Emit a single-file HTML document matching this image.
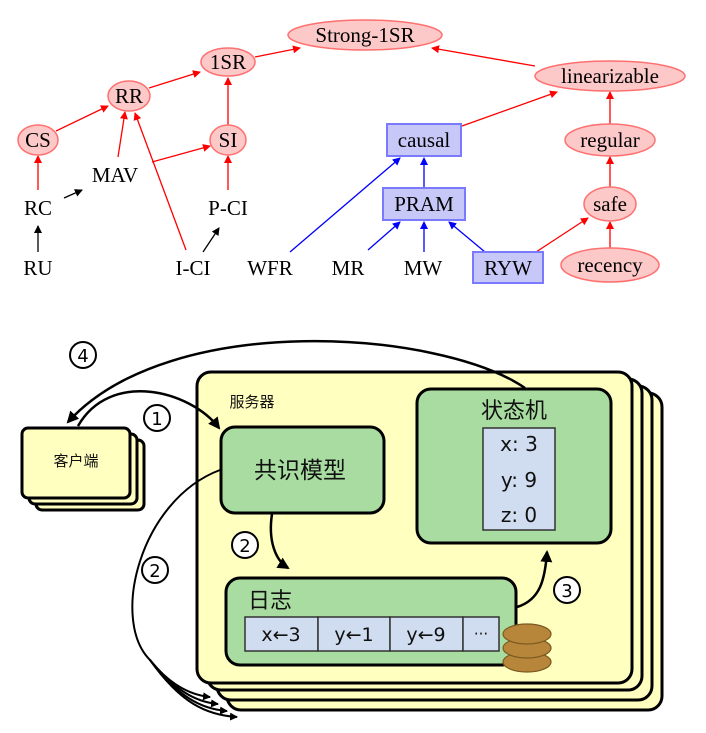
<!DOCTYPE html>
<html><head><meta charset="utf-8"><style>body{margin:0;background:#fff}svg{display:block}</style></head><body>
<svg width="706" height="733" viewBox="0 0 706 733" xmlns="http://www.w3.org/2000/svg">
<defs>
<marker id="ar" markerWidth="8" markerHeight="8" refX="7" refY="4" orient="auto" markerUnits="userSpaceOnUse"><path d="M0,0 L8,4 L0,8 Z" fill="#f00"/></marker>
<marker id="ab" markerWidth="8" markerHeight="8" refX="7" refY="4" orient="auto" markerUnits="userSpaceOnUse"><path d="M0,0 L8,4 L0,8 Z" fill="#00f"/></marker>
<marker id="ak" markerWidth="8" markerHeight="8" refX="7" refY="4" orient="auto" markerUnits="userSpaceOnUse"><path d="M0,0 L8,4 L0,8 Z" fill="#000"/></marker>
<marker id="ak2" markerWidth="12" markerHeight="12" refX="10" refY="6" orient="auto" markerUnits="userSpaceOnUse"><path d="M0,0 L12,6 L0,12 Z" fill="#000"/></marker>
</defs>
<g font-family="Liberation Serif, serif" font-size="21" text-anchor="middle">
<g stroke="#f00" stroke-width="1.3" fill="none" marker-end="url(#ar)">
<line x1="255" y1="57" x2="300" y2="48"/>
<line x1="535" y1="66" x2="432" y2="48"/>
<line x1="149" y1="88" x2="200" y2="72"/>
<line x1="56" y1="131" x2="108" y2="106"/>
<line x1="118" y1="157" x2="125" y2="112"/>
<line x1="186" y1="250" x2="135" y2="113"/>
<line x1="152" y1="162" x2="210" y2="146"/>
<line x1="228" y1="125" x2="228" y2="78"/>
<line x1="228" y1="190" x2="228" y2="156"/>
<line x1="38" y1="190" x2="38" y2="156"/>
<line x1="462" y1="126" x2="557" y2="92"/>
<line x1="610" y1="124" x2="610" y2="92"/>
<line x1="610" y1="187" x2="610" y2="157"/>
<line x1="610" y1="248" x2="610" y2="222"/>
<line x1="536" y1="252" x2="588" y2="218"/>
</g>
<g stroke="#00f" stroke-width="1.3" fill="none" marker-end="url(#ab)">
<line x1="290" y1="252" x2="400" y2="158"/>
<line x1="424" y1="188" x2="424" y2="158"/>
<line x1="368" y1="250" x2="400" y2="222"/>
<line x1="424" y1="252" x2="424" y2="222"/>
<line x1="485" y1="252" x2="449" y2="222"/>
</g>
<g stroke="#000" stroke-width="1.3" fill="none" marker-end="url(#ak)">
<line x1="38" y1="252" x2="38" y2="226"/>
<line x1="64" y1="198" x2="82" y2="190"/>
<line x1="203" y1="252" x2="219" y2="228"/>
</g>
<g fill="#fcc8c8" stroke="#ff7070" stroke-width="1.5">
<ellipse cx="365" cy="35" rx="77" ry="15"/>
<ellipse cx="228" cy="62" rx="27" ry="14"/>
<ellipse cx="129" cy="96" rx="21" ry="15"/>
<ellipse cx="38" cy="140" rx="20" ry="15"/>
<ellipse cx="228" cy="140" rx="18" ry="15"/>
<ellipse cx="610" cy="76" rx="75" ry="15"/>
<ellipse cx="610" cy="140" rx="45" ry="16"/>
<ellipse cx="610" cy="204" rx="26" ry="17"/>
<ellipse cx="610" cy="265" rx="49" ry="17"/>
</g>
<g fill="#c8c8f8" stroke="#7a7aff" stroke-width="2">
<rect x="387" y="124" width="74" height="32"/>
<rect x="383" y="188" width="82" height="32"/>
<rect x="473" y="252" width="70" height="31"/>
</g>
<text x="365" y="42">Strong-1SR</text>
<text x="228" y="69">1SR</text>
<text x="129" y="103">RR</text>
<text x="38" y="147">CS</text>
<text x="228" y="147">SI</text>
<text x="115" y="182">MAV</text>
<text x="38" y="215">RC</text>
<text x="228" y="215">P-CI</text>
<text x="38" y="275">RU</text>
<text x="193" y="275">I-CI</text>
<text x="270" y="275">WFR</text>
<text x="348" y="275">MR</text>
<text x="423" y="275">MW</text>
<text x="508" y="275">RYW</text>
<text x="424" y="147">causal</text>
<text x="424" y="211">PRAM</text>
<text x="610" y="83">linearizable</text>
<text x="610" y="147">regular</text>
<text x="610" y="211">safe</text>
<text x="610" y="272">recency</text>
</g>

<g stroke="#000" stroke-width="3" fill="#ffffc0">
<rect x="227" y="393" width="435" height="317" rx="14"/>
<rect x="217" y="386" width="435" height="314" rx="14"/>
<rect x="207" y="379" width="435" height="311" rx="14"/>
<rect x="197" y="372" width="435" height="311" rx="14"/>
<rect x="36" y="440" width="108" height="70" rx="6"/>
<rect x="29" y="434" width="108" height="70" rx="6"/>
<rect x="22" y="428" width="108" height="70" rx="6"/>
</g>
<g stroke="#000" stroke-width="3" fill="#a8dca0">
<rect x="221" y="427" width="163" height="86" rx="14"/>
<rect x="417" y="389" width="194" height="154" rx="14"/>
<rect x="226" y="578" width="290" height="87" rx="14"/>
</g>
<g stroke="#333" stroke-width="1.5" fill="#d0dcf0">
<rect x="483" y="428" width="72" height="102"/>
<rect x="245" y="617" width="73" height="34"/>
<rect x="318" y="617" width="72" height="34"/>
<rect x="390" y="617" width="73" height="34"/>
<rect x="463" y="617" width="36" height="34"/>
</g>
<g fill="#b8863a" stroke="#7a5a20" stroke-width="1.2">
<ellipse cx="527" cy="662" rx="24" ry="10"/>
<ellipse cx="527" cy="648" rx="24" ry="10"/>
<ellipse cx="527" cy="634" rx="24" ry="10"/>
</g>
<g font-family="DejaVu Sans, 'Noto Sans CJK SC', sans-serif" text-anchor="middle" fill="#111">
<text x="76" y="466" font-size="15" font-family="'Noto Sans CJK SC', sans-serif">客户端</text>
<text x="252" y="407" font-size="15" font-family="'Noto Sans CJK SC', sans-serif">服务器</text>
<text x="300" y="478" font-size="23" font-family="'Noto Sans CJK SC', sans-serif">共识模型</text>
<text x="514" y="418" font-size="22" font-family="'Noto Sans CJK SC', sans-serif">状态机</text>
<text x="270" y="608" font-size="22" font-family="'Noto Sans CJK SC', sans-serif">日志</text>
<text x="519" y="451" font-size="20">x: 3</text>
<text x="519" y="487" font-size="20">y: 9</text>
<text x="519" y="522" font-size="20">z: 0</text>
<text x="281" y="641" font-size="19">x←3</text>
<text x="354" y="641" font-size="19">y←1</text>
<text x="426" y="641" font-size="19">y←9</text>
<text x="481" y="639" font-size="15">···</text>
</g>
<g stroke="#000" stroke-width="2.5" fill="none">
<path d="M525,388 C440,330 170,310 68,422" marker-end="url(#ak2)"/>
<path d="M78,426 C110,370 190,390 219,428" marker-end="url(#ak2)"/>
<path d="M272,514 C268,540 275,560 288,568" marker-end="url(#ak2)"/>
<path d="M517,607 C540,600 545,580 547,552" marker-end="url(#ak2)"/>
<g stroke-width="2">
<path d="M220,470 C140,500 110,620 150,660 C170,685 190,695 210,697" marker-end="url(#ak)"/>
<path d="M150,660 C175,690 195,702 218,704" marker-end="url(#ak)"/>
<path d="M150,660 C178,696 200,709 227,711" marker-end="url(#ak)"/>
<path d="M150,660 C180,702 205,715 237,717" marker-end="url(#ak)"/>
</g>
</g>
<g stroke="#000" stroke-width="2" fill="#fff">
<circle cx="83" cy="355" r="13"/><circle cx="157" cy="418" r="13"/>
<circle cx="245" cy="545" r="13"/><circle cx="155" cy="570" r="13"/>
<circle cx="567" cy="590" r="13"/>
</g>
<g font-family="DejaVu Sans, sans-serif" font-size="18" text-anchor="middle">
<text x="83" y="362">4</text><text x="157" y="425">1</text>
<text x="245" y="552">2</text><text x="155" y="577">2</text><text x="567" y="597">3</text>
</g>
</svg>
</body></html>
